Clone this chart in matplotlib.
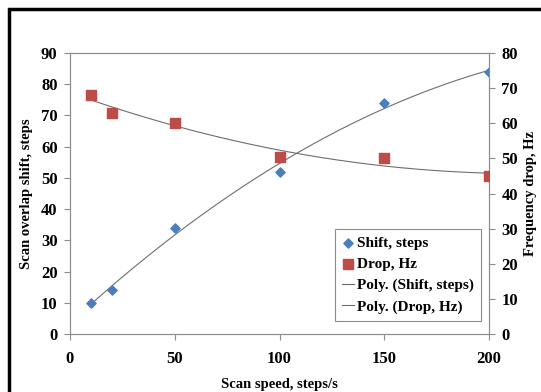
import numpy as np
import matplotlib
matplotlib.use('Agg')
import matplotlib.pyplot as plt
from matplotlib.patches import Rectangle

plt.rcParams['font.family'] = 'Liberation Serif'
plt.rcParams['font.weight'] = 'bold'

# data
speed = [10, 20, 50, 100, 150, 200]
shift = [10, 14, 34, 52, 74, 84]
drop = [68, 63, 60, 50.5, 50, 45]

shift_col = '#4a7ebb'
drop_col = '#be4b48'
spine_col = '#8c8c8c'

fig = plt.figure(figsize=(5.41, 3.92), dpi=100)
ax = fig.add_axes([70 / 541, 58 / 392, 419 / 541, 281 / 392])
ax2 = ax.twinx()

# 2nd order poly trendlines like excel
xs = np.linspace(min(speed), max(speed), 200)
p1 = np.polyfit(speed, shift, 2)
p2 = np.polyfit(speed, drop, 2)

h1 = ax.scatter(speed, shift, marker='D', s=22, color=shift_col, zorder=3, label='Shift, steps')
h2 = ax2.scatter(speed, drop, marker='s', s=45, color=drop_col, zorder=3, label='Drop, Hz')
l1, = ax.plot(xs, np.polyval(p1, xs), color='#6e6e6e', lw=0.8, label='Poly. (Shift, steps)')
l2, = ax2.plot(xs, np.polyval(p2, xs), color='#6e6e6e', lw=0.8, label='Poly. (Drop, Hz)')

ax.set_xlim(0, 200)
ax.set_ylim(0, 90)
ax2.set_ylim(0, 80)
ax.set_xticks([0, 50, 100, 150, 200])
ax.set_yticks(range(0, 91, 10))
ax2.set_yticks(range(0, 81, 10))

for a in (ax, ax2):
    for s in a.spines.values():
        s.set_color(spine_col)
        s.set_linewidth(0.8)
    a.tick_params(direction='out', length=4, width=0.8, color=spine_col, labelsize=12, pad=5)
ax.tick_params(axis='x', pad=8)
for lab in ax.get_xticklabels() + ax.get_yticklabels() + ax2.get_yticklabels():
    lab.set_fontweight('bold')

ax.set_xlabel('Scan speed, steps/s', fontsize=10.5, fontweight='bold', labelpad=8)
ax.set_ylabel('Scan overlap shift, steps', fontsize=10.5, fontweight='bold', labelpad=6)
ax2.set_ylabel('Frequency drop, Hz', fontsize=10.5, fontweight='bold', labelpad=4)

leg = ax.legend(handles=[h1, h2, l1, l2], loc='lower right', bbox_to_anchor=(0.999, 0.02),
                prop={'weight': 'bold', 'size': 11}, fancybox=False, edgecolor=spine_col,
                framealpha=1, handlelength=0.8, handletextpad=0.2, borderpad=0.45,
                labelspacing=0.5, scatterpoints=1, markerscale=1.0)
leg.get_frame().set_linewidth(0.8)

# outer black frame (cropped at right and bottom)
fig.patches.append(Rectangle((9 / 541, -0.2), 1.2, 0.2 + 383 / 392, transform=fig.transFigure,
                             fill=False, edgecolor='black', lw=2.5))

fig.savefig('out.png', dpi=100)
